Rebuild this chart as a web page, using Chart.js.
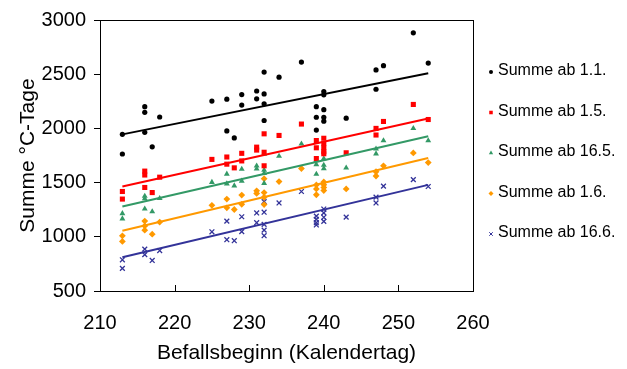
<!DOCTYPE html>
<html>
<head>
<meta charset="utf-8">
<script src="https://cdn.jsdelivr.net/npm/chart.js@4"></script>
<style>
  html, body { margin: 0; padding: 0; background: #ffffff; }
  #wrap { width: 627px; height: 369px; }
</style>
</head>
<body>
<div id="wrap"><canvas id="c" width="627" height="369"></canvas></div>
<script>
// Befallsbeginn (Kalendertag) und Temperatursumme, je Summenbeginn: [Tag, °C-Tage]
const summeAb0101 = [
  [213,1945],[213,1764],[216,2200],[216,2148],[216,1964],[217,1830],[218,2105],
  [225,2252],[227,2270],[227,1977],[228,1912],[229,2312],[229,2215],[231,2345],[231,2273],
  [232,2520],[232,2318],[232,2227],[232,2073],[234,2473],[237,2612],
  [239,2200],[239,2103],[239,1985],[240,2340],[240,2310],[240,2173],[240,2103],[240,2067],
  [243,2094],[247,2539],[247,2361],[248,2579],[252,2882],[254,2603]
];
const summeAb0105 = [
  [213,1418],[213,1348],[216,1606],[216,1570],[216,1455],[217,1408],[218,1550],
  [225,1714],[227,1736],[227,1670],[228,1636],[229,1770],[229,1700],[231,1827],[231,1800],
  [232,1950],[232,1780],[232,1655],[234,1935],[237,2040],
  [239,1888],[239,1821],[239,1722],[240,1909],[240,1860],[240,1820],[240,1785],[240,1766],
  [243,1775],[247,2000],[247,1939],[248,2064],[252,2221],[254,2082]
];
const summeAb1605 = [
  [213,1215],[213,1167],[216,1375],[216,1352],[216,1258],[217,1233],[218,1355],
  [225,1503],[227,1580],[227,1490],[228,1471],[229,1624],[229,1515],[231,1655],[231,1627],
  [232,1764],[232,1615],[232,1585],[232,1494],[234,1745],[237,1857],
  [239,1706],[239,1667],[239,1579],[240,1721],[240,1661],[240,1630],
  [243,1636],[247,1812],[247,1766],[248,1888],[252,2000],[254,1888]
];
const summeAb0106 = [
  [213,1009],[213,957],[216,1145],[216,1100],[216,1061],[217,1024],[218,1136],
  [225,1290],[227,1348],[227,1267],[228,1252],[229,1385],[229,1300],[231,1424],[231,1400],
  [232,1536],[232,1408],[232,1365],[232,1297],[234,1509],[237,1630],
  [239,1479],[239,1442],[239,1388],[240,1506],[240,1480],[240,1455],[240,1427],
  [243,1442],[247,1600],[247,1561],[248,1655],[252,1774],[254,1685]
];
const summeAb1606 = [
  [213,788],[213,709],[216,886],[216,836],[217,782],[218,873],
  [225,1046],[227,1145],[227,973],[228,964],[229,1185],[229,1048],[231,1220],[231,1130],
  [232,1324],[232,1227],[232,1115],[232,1062],[232,1010],[234,1312],[237,1418],
  [239,1191],[239,1161],[239,1130],[239,1109],[240,1256],[240,1221],[240,1180],[240,1142],
  [243,1182],[247,1366],[247,1312],[248,1467],[252,1527],[254,1464]
];

// Lineare Trendlinien: Werte am ersten und letzten Befallstag
const trendTage = [213, 254];
const trend0101 = [1945, 2509];
const trend0105 = [1464, 2091];
const trend1605 = [1279, 1927];
const trend0106 = [1055, 1727];
const trend1606 = [812, 1479];

const serienNamen = ['Summe ab 1.1.', 'Summe ab 1.5.', 'Summe ab 16.5.', 'Summe ab 1.6.', 'Summe ab 16.6.'];
const xTicks = [210, 220, 230, 240, 250, 260];
const yTicks = [500, 1000, 1500, 2000, 2500, 3000];

const FONT = "'Liberation Sans', Arial, sans-serif";
const styles = [
  { color: '#000000', pointStyle: 'circle',   radius: 2.6 },
  { color: '#ff0000', pointStyle: 'rect',     radius: 3.6 },
  { color: '#339966', pointStyle: 'triangle', radius: 3.4 },
  { color: '#ff9900', pointStyle: 'rectRot',  radius: 3.4 },
  { color: '#333399', pointStyle: 'crossRot', radius: 3.4 }
];
const punkte = [summeAb0101, summeAb0105, summeAb1605, summeAb0106, summeAb1606];
const trends = [trend0101, trend0105, trend1605, trend0106, trend1606];

const datasets = [];
punkte.forEach((serie, i) => {
  const s = styles[i];
  datasets.push({
    type: 'scatter',
    label: serienNamen[i],
    data: serie.map(p => ({ x: p[0], y: p[1] })),
    pointStyle: s.pointStyle,
    pointRadius: s.radius,
    pointBackgroundColor: s.color,
    pointBorderColor: s.color,
    pointBorderWidth: s.pointStyle === 'crossRot' ? 1.3 : 0,
    order: 2
  });
});
trends.forEach((t, i) => {
  datasets.push({
    type: 'line',
    label: 'Trend ' + serienNamen[i],
    data: trendTage.map((d, k) => ({ x: d, y: t[k] })),
    borderColor: styles[i].color,
    borderWidth: 2,
    pointRadius: 0,
    fill: false,
    order: 1
  });
});

// Rahmen um die Zeichenfläche und nach innen zeigende Striche an der x-Achse
const rahmen = {
  id: 'rahmen',
  afterDraw(chart) {
    const { ctx, chartArea: a, scales } = chart;
    ctx.save();
    ctx.strokeStyle = '#000';
    ctx.lineWidth = 1;
    ctx.strokeRect(a.left + 0.5, a.top + 0.5, a.right - a.left, a.bottom - a.top);
    const xs = scales.x;
    xs.ticks.forEach(t => {
      const px = Math.round(xs.getPixelForValue(t.value)) + 0.5;
      ctx.beginPath();
      ctx.moveTo(px, a.bottom);
      ctx.lineTo(px, a.bottom - 6);
      ctx.stroke();
    });
    ctx.restore();
  }
};

// Legende rechts neben dem Diagramm
const legende = {
  id: 'legende',
  afterDraw(chart) {
    const { ctx } = chart;
    ctx.save();
    ctx.font = '16px ' + FONT;
    ctx.textBaseline = 'middle';
    ctx.textAlign = 'left';
    serienNamen.forEach((name, i) => {
      const y = 71 + i * 40.5;
      const s = styles[i];
      ctx.fillStyle = s.color;
      ctx.strokeStyle = s.color;
      ctx.lineWidth = 1;
      Chart.helpers.drawPoint(ctx, {
        pointStyle: s.pointStyle,
        radius: s.pointStyle === 'circle' ? 2 : 2.5,
        borderWidth: s.pointStyle === 'crossRot' ? 1 : 0,
        rotation: 0
      }, 491, y + 1);
      ctx.fillStyle = '#000';
      ctx.fillText(name, 498, y);
    });
    ctx.restore();
  }
};

new Chart(document.getElementById('c'), {
  data: { datasets },
  options: {
    responsive: false,
    devicePixelRatio: 1,
    animation: false,
    layout: { padding: { top: 16, right: 154, left: 0, bottom: 0 } },
    plugins: { legend: { display: false }, tooltip: { enabled: false } },
    scales: {
      x: {
        type: 'linear',
        min: 210, max: 260,
        afterBuildTicks(scale) { scale.ticks = xTicks.map(v => ({ value: v })); },
        afterFit(scale) { scale.height = 78; },
        grid: { display: true, drawOnChartArea: false, drawTicks: false, color: '#000' },
        border: { display: true, color: '#000', width: 1 },
        ticks: { color: '#000', font: { family: FONT, size: 20 }, padding: 20, maxRotation: 0,
                 callback: v => String(v) },
        title: { display: true, text: 'Befallsbeginn (Kalendertag)', color: '#000',
                 font: { family: FONT, size: 21 }, padding: { top: 0, bottom: 3 } }
      },
      y: {
        type: 'linear',
        min: 500, max: 3000,
        afterBuildTicks(scale) { scale.ticks = yTicks.map(v => ({ value: v })); },
        afterFit(scale) { scale.width = 100; },
        grid: { display: true, drawOnChartArea: false, drawTicks: true, tickLength: 6, color: '#000' },
        border: { display: true, color: '#000', width: 1 },
        ticks: { color: '#000', font: { family: FONT, size: 20 }, padding: 8,
                 callback: v => String(v) },
        title: { display: true, text: 'Summe °C-Tage', color: '#000',
                 font: { family: FONT, size: 21 }, padding: { top: 16, bottom: 0 } }
      }
    }
  },
  plugins: [rahmen, legende]
});
</script>
</body>
</html>
